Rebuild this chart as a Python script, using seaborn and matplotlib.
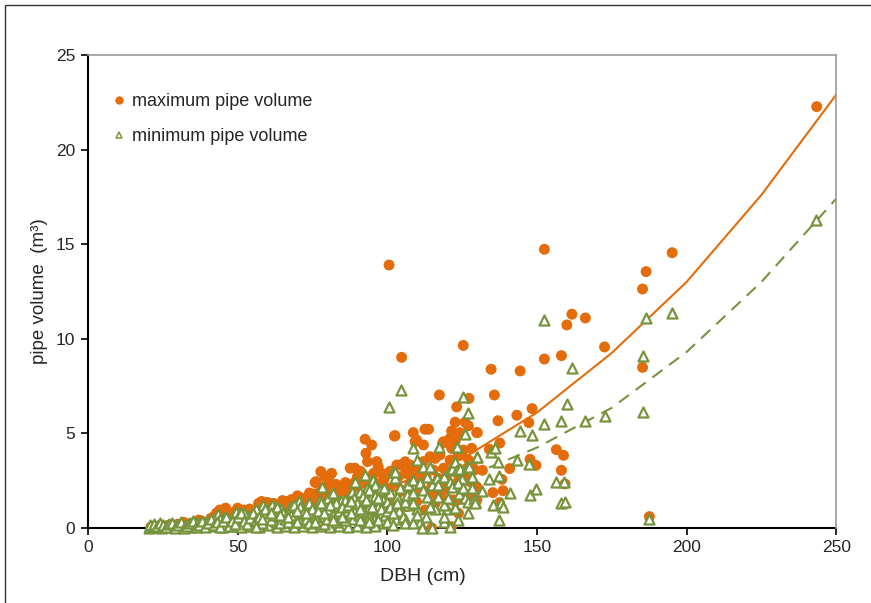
import matplotlib
matplotlib.use("Agg")
import matplotlib.pyplot as plt
import seaborn as sns
import pandas as pd
from matplotlib.lines import Line2D
from matplotlib.patches import Rectangle

# Maximum pipe volume per tree: DBH (cm) and volume (m3)
max_dbh = [
    21, 22, 23, 24, 25, 26, 27, 28, 29, 30, 31, 32, 33, 34, 35, 36, 37, 38, 39, 40,
    41, 42, 43, 44, 45, 46, 47, 48,
    49, 50, 51, 52, 53, 54, 55, 56, 57, 58, 59, 60, 61, 62, 63, 64, 65, 66, 67, 68,
    69, 70, 71, 72, 73, 74, 75,
    50, 55, 58, 60, 63, 66, 68, 70, 72, 74,
    75.9, 76.2, 77.8, 79.2, 80, 81.4, 82, 83.1, 84.2, 85, 85.9, 86, 87.6, 88.7, 89.2,
    89.8, 90.5, 91.5, 92.6, 92.9, 93.4, 94.3, 94.8, 95.4, 95.9, 96.5, 97, 97.6, 98.1,
    98.7, 99.3, 99.8, 100.4, 100.6, 100.9,
    76, 78, 80, 82, 84, 86, 88, 90, 92, 94, 96, 97.6, 98,
    58, 60, 62, 64, 66, 68, 70, 72, 74, 76, 78, 80, 81, 83, 85, 87, 88, 90, 91, 93,
    95, 96, 98, 99, 101, 103, 105, 106, 108, 110, 111, 113, 115, 116, 118, 120, 122,
    124, 126, 128, 45, 47, 49, 52, 54, 56, 38, 41, 43,
    101, 102, 102.4, 102.6, 103.2, 103.7, 104.3, 104.3, 104.8, 106, 106.5, 107.6, 107.6,
    107.6, 108.7, 108.7, 109.3, 109.8, 109.8, 111, 111, 112.1, 112.1, 112.6, 112.6, 113.8,
    114.3, 114.3, 114.9, 115.4, 115.4, 116, 117.1, 117.4, 117.6, 118.5, 118.8, 118.8,
    118.8, 119.9, 121, 121, 121.5, 121.5, 121.5, 121.5, 122.1, 122.7, 122.7, 122.7, 123.2,
    123.2, 123.7, 123.8, 124.3, 124.9, 125.4, 125.4, 126, 126, 126.6, 127.1, 127.2, 127.3,
    127.7, 127.7, 128.2, 128.3, 129.3, 129.3, 129.9, 129.9, 129.9,
    130.1, 131.8, 134.1, 134.7, 135.3, 135.8, 137, 137.5, 137.6, 138.3, 138.7, 140.9,
    143.3, 144.4, 147.3, 147.7, 148.4, 149.7, 152.5, 152.5, 156.5, 158.2, 158.2, 158.9,
    159.4, 160, 161.7, 166.2, 172.6, 185.3, 185.3, 186.5, 187.6, 195.2, 243.5,
]
max_vol = [
    0.05, 0.1, 0.08, 0.12, 0.06, 0.1, 0.15, 0.08, 0.12, 0.2, 0.1, 0.3, 0.15, 0.22, 0.12,
    0.3, 0.42, 0.18, 0.28, 0.15, 0.35, 0.6, 0.4, 0.95, 0.7, 1.05, 0.45, 0.3,
    0.85, 1.05, 0.5, 0.7, 0.35, 0.75, 0.6, 0.9, 1.3, 1.4, 0.8, 1.35, 0.6, 1.3, 1.0, 0.5,
    1.45, 1.2, 0.8, 1.5, 1.0, 1.7, 1.6, 1.2, 1.5, 1.85, 1.3,
    0.4, 0.3, 0.7, 0.9, 0.6, 0.9, 0.4, 1.1, 0.7, 0.9,
    2.4, 2.45, 2.98, 2.71, 2.2, 2.89, 1.6, 1.83, 2.0, 1.3, 1.92, 2.4, 3.16, 2.36, 3.16,
    2.18, 1.5, 2.36, 4.69, 3.95, 3.51, 2.0, 4.39, 2.89, 2.1, 3.51, 3.24, 1.92, 2.89,
    2.27, 0.6, 1.65, 2.89, 13.9, 2.89,
    1.2, 1.6, 0.8, 1.1, 1.4, 0.9, 1.2, 0.7, 1.3, 1.0, 0.5, 0.78, 1.3,
    1.0, 0.5, 1.1, 1.2, 1.4, 1.1, 1.4, 1.5, 1.4, 1.8, 2.0, 1.8, 2.4, 2.3, 2.2, 1.8,
    2.0, 2.7, 3.0, 2.6, 1.6, 2.4, 2.3, 2.6, 3.0, 2.4, 2.0, 3.5, 2.7, 2.5, 3.0, 2.7,
    2.3, 1.3, 1.6, 2.9, 3.1, 2.6, 3.1, 1.8, 0.5, 0.8, 0.55, 0.95, 1.0, 0.6, 0.35,
    0.5, 0.8,
    2.1, 1.22, 4.86, 4.88, 3.33, 2.71, 1.92, 3.33, 9.02, 2.89, 1.13, 2.36, 3.33,
    1.83, 5.04, 3.07, 4.56, 1.39, 4.65, 2.0, 2.18, 4.39, 3.51, 5.22, 0.95, 5.22,
    3.77, 2.0, 0.0, 3.07, 1.83, 3.68, 2.62, 7.03, 3.86, 4.48, 4.56, 3.16,
    2.0, 2.45, 4.74, 3.59, 5.13, 1.48, 0.07, 4.21, 1.48, 5.59, 4.6, 1.39, 6.4,
    2.36, 3.84, 0.78, 5.04, 3.86, 9.65, 4.12, 5.59, 2.68, 1.74, 5.4, 3.59, 6.85,
    3.33, 2.45, 4.21, 3.33, 3.07, 2.13, 5.04, 2.18, 1.48,
    5.04, 3.05, 4.16, 8.39, 1.87, 7.03, 5.67, 1.34, 4.49, 2.57, 1.97, 3.14,
    5.96, 8.3, 5.57, 3.63, 6.31, 3.31, 14.73, 8.93, 4.14, 9.11, 3.05, 3.84,
    2.33, 10.73, 11.3, 11.1, 9.57, 8.49, 12.63, 13.55, 0.6, 14.55, 22.27,
]

# Minimum pipe volume per tree
min_dbh = [
    20.5, 21.5, 22.5, 23.5, 24.5, 25.5, 26.5, 27.5, 28.5, 29.5, 30.5, 31.5, 32.5, 33.5,
    34.5, 35.5, 36.5, 37.5, 38.5, 39.5, 40.5, 41.5, 42.5, 43.5, 44.5, 45.5, 46.5, 47.5,
    48.5, 49.5, 50.5, 51.5, 52.5, 53.5, 54.5, 55.5, 56.5, 57.5, 58.5, 59.5, 60.5, 61.5,
    62.5, 63.5, 64.5, 65.5, 66.5, 67.5, 68.5, 69.5, 70.5, 71.5, 72.5, 73.5, 74.5, 75.5,
    76.5, 77.5, 78.1, 78.5, 79.5, 80.3, 80.5, 81.5, 82, 82.5, 83.5, 84.5, 85.5, 86.5,
    87.5, 88.1, 88.5, 89.2, 89.5, 90.5, 90.9, 91.5, 92.6, 92.5, 93.1, 93.5, 94.5, 95.4,
    95.5, 95.9, 96.5, 97.5, 97.6, 98.5, 98.7, 99.3, 99.8, 100.7, 100.9,
    45, 48, 51, 54, 57, 60, 63, 66, 69, 72, 75, 78, 81, 84, 87, 90, 93, 96,
    44, 52, 56, 59, 62, 65, 68, 71, 74, 77, 80, 83, 86, 89, 92, 94, 97,
    20.8, 22, 23, 24, 25, 26, 27, 28, 29, 30, 31, 32, 33, 34, 35, 36, 37, 38, 39, 40,
    41, 42, 43, 44, 45, 46, 47, 48, 49, 50, 51, 52, 53, 54, 55, 56, 57, 58, 59, 60,
    61, 62, 63, 64, 65, 66, 67, 68, 69, 70, 71, 72, 73, 74, 75, 76, 77, 78, 79, 80,
    81, 82, 83, 84, 85, 86, 87, 88, 89, 90, 91, 92, 93, 94, 95, 96, 97, 98, 99, 100,
    56, 58, 61, 64, 67, 70, 73, 76, 79, 82, 85, 88, 91, 94, 97, 100, 101, 103, 104,
    106, 107, 110, 111, 113, 116, 119, 120, 124, 125, 127,
    102, 102, 102, 102.6, 102.6, 103.2, 103.2, 104.3, 104.6, 105.4, 105.9, 105.9, 106.5,
    107, 108.7, 108.7, 108.7, 108.7, 108.7, 109.8, 109.8, 111, 111.5, 112.1, 112.1, 113.2,
    113.2, 114.3, 114.3, 114.9, 114.9, 116.5, 117.1, 117.1, 117.4, 118.8, 118.8, 118.8,
    120.4, 121, 121, 121, 121.5, 121.5, 122.7, 122.7, 122.7, 123.2, 123.2, 123.2, 123.8,
    123.8, 124.3, 125.4, 125.4, 126, 126, 126, 126.6, 127.1, 127.1, 127.3, 128.2, 128.2,
    128.3, 129, 129.3, 129.3, 129.9,
    130.1, 131.8, 134.1, 134.7, 135.3, 135.9, 136.9, 137.5, 137.5, 138, 138.6, 140.9,
    143.3, 144.4, 147.3, 147.8, 148.4, 149.6, 152.5, 152.5, 156.5, 158.2, 158.2, 158.9,
    159.4, 159.9, 161.7, 166.2, 172.6, 185.3, 185.3, 186.5, 187.6, 195, 243.3,
]
min_vol = [
    0.02, 0.05, 0.03, 0.08, 0.02, 0.06, 0.1, 0.04, 0.08, 0.12, 0.05, 0.15, 0.08, 0.2,
    0.05, 0.12, 0.25, 0.08, 0.18, 0.3, 0.1, 0.22, 0.45, 0.75, 0.3, 0.55, 0.15, 0.4,
    0.6, 0.85, 0.25, 0.5, 0.1, 0.65, 0.35, 0.5, 0.2, 0.8, 1.2, 0.45, 0.95, 1.2,
    0.3, 0.7, 1.0, 0.5, 0.8, 1.1, 0.2, 0.6, 1.45, 0.9, 0.4, 1.2, 0.7, 0.15,
    1.0, 1.5, 2.18, 0.5, 1.3, 1.57, 0.8, 0.3, 1.83, 1.1, 0.6, 1.4, 0.2, 0.9,
    1.6, 1.92, 0.5, 2.45, 1.2, 0.7, 1.92, 1.4, 2.8, 0.3, 2.1, 1.0, 1.6, 2.54,
    0.5, 2.27, 1.2, 0.8, 2.0, 1.5, 0.25, 0.69, 1.39, 6.38, 1.83,
    0.05, 0.1, 0.05, 0.1, 0.05, 0.15, 0.05, 0.1, 0.05, 0.1, 0.05, 0.1, 0.05, 0.1, 0.05,
    0.1, 0.05, 0.1,
    0.5, 0.8, 1.0, 0.7, 0.9, 0.3, 1.0, 0.3, 1.3, 0.4, 1.0, 1.3, 1.5, 0.9, 1.7, 0.6, 1.1,
    0.15, 0.2, 0.12, 0.25, 0.18, 0.05, 0.22, 0.28, 0.02, 0.18, 0.3, 0.02, 0.1, 0.25,
    0.35, 0.05, 0.15, 0.35, 0.05, 0.25, 0.45, 0.15, 0.3, 0.05, 0.35, 0.6, 0.1, 0.35,
    0.2, 0.6, 0.8, 0.35, 0.2, 0.55, 0.8, 0.4, 0.6, 0.25, 1.0, 0.6, 0.4, 0.7, 1.1, 0.25,
    0.8, 0.5, 0.3, 0.7, 1.2, 0.3, 1.1, 0.8, 0.5, 0.25, 1.0, 0.6, 0.9, 1.3, 0.2, 0.5,
    1.2, 0.7, 0.3, 0.9, 1.1, 0.4, 1.2, 0.8, 1.6, 1.3, 0.4, 0.9, 1.5, 2.0, 1.1, 1.7,
    0.4, 1.0, 2.1, 0.9,
    0.05, 0.5, 0.8, 0.7, 0.6, 0.9, 0.8, 0.3, 0.8, 0.4, 0.6, 1.4, 1.0, 0.3, 1.6, 0.3,
    1.1, 0.5, 0.9, 0.5, 1.2, 1.0, 0.3, 0.6, 1.0, 0.3, 1.0, 1.8, 2.6, 0.8,
    2.98, 0.78, 0.16, 2.62, 2.98, 1.65, 1.31, 2.1, 7.3, 0.6, 1.39, 0.25, 1.74,
    2.27, 4.21, 2.54, 1.83, 1.31, 0.25, 3.59, 0.69, 2.36, 0.0, 3.21, 2.0, 2.71,
    1.65, 3.21, 1.13, 2.27, 0.0, 2.62, 2.27, 1.65, 4.27, 2.71, 1.22, 0.6,
    1.57, 3.07, 2.45, 0.07, 3.1, 2.18, 1.13, 3.5, 1.04, 4.27, 3.07, 4.3, 2.36,
    0.42, 3.1, 6.94, 2.1, 4.97, 1.57, 1.6, 3.21, 6.1, 1.36, 3.21, 2.71, 2.1,
    2.68, 1.55, 1.39, 1.3, 3.73,
    3.73, 1.97, 2.57, 4.03, 1.22, 4.21, 3.47, 2.77, 0.42, 1.34, 1.1, 1.87,
    3.58, 5.13, 3.4, 1.74, 4.93, 2.04, 11.0, 5.48, 2.41, 5.66, 1.3, 2.41,
    1.39, 6.57, 8.47, 5.66, 5.94, 9.09, 6.13, 11.08, 0.5, 11.35, 16.28,
]

# Fitted allometric curves for both estimates
fit_dbh = [25, 50, 75, 100, 125, 150, 175, 200, 225, 250]
fit_max = [0.04, 0.33, 1.0, 2.1, 3.65, 6.1, 9.25, 13.0, 17.6, 22.9]
fit_min = [0.03, 0.25, 0.7, 1.45, 2.6, 4.25, 6.35, 9.3, 13.0, 17.4]

x_ticks = [0, 50, 100, 150, 200, 250]
y_ticks = [0, 5, 10, 15, 20, 25]

ORANGE = "#E46C0A"
GREEN = "#77933C"
FONT = ["Liberation Sans", "DejaVu Sans"]

sns.set_theme(style="white")
plt.rcParams["font.family"] = FONT

df_max = pd.DataFrame({"dbh": max_dbh, "vol": max_vol})
df_min = pd.DataFrame({"dbh": min_dbh, "vol": min_vol})
df_fit = pd.DataFrame({"dbh": fit_dbh, "fmax": fit_max, "fmin": fit_min})

fig = plt.figure(figsize=(8.71, 6.03), dpi=100)
ax = fig.add_axes([0.101, 0.1244, 0.859, 0.7844])

sns.lineplot(data=df_fit, x="dbh", y="fmax", ax=ax, color=ORANGE, lw=1.5,
             zorder=1.5, legend=False)
sns.lineplot(data=df_fit, x="dbh", y="fmin", ax=ax, color=GREEN, lw=1.5,
             zorder=1.5, legend=False)
ax.lines[-1].set_dashes([6, 4])
sns.scatterplot(data=df_max, x="dbh", y="vol", ax=ax, color=ORANGE, marker="o",
                s=62, edgecolor="none", linewidth=0, zorder=2, legend=False,
                clip_on=False)
sns.scatterplot(data=df_min, x="dbh", y="vol", ax=ax, marker="^", s=52,
                facecolor="white", edgecolor=GREEN, linewidth=1.6, zorder=3,
                legend=False, clip_on=False)

ax.set_xlim(0, 250)
ax.set_ylim(0, 25)
ax.set_xticks(x_ticks)
ax.set_yticks(y_ticks)
ax.set_xticklabels([str(v) for v in x_ticks], fontsize=12.5)
ax.set_yticklabels([str(v) for v in y_ticks], fontsize=12.5)
ax.tick_params(axis="both", direction="out", length=5, width=1.2, color="black",
               pad=4, bottom=True, left=True)
ax.set_xlabel("DBH (cm)", fontsize=14, labelpad=10)
ax.xaxis.set_label_coords(0.448, -0.085)
ax.set_ylabel("pipe volume  (m³)", fontsize=13.5, labelpad=6)

for side in ("left", "bottom"):
    ax.spines[side].set_color("black")
    ax.spines[side].set_linewidth(1.5)
    ax.spines[side].set_zorder(1)
for side in ("top", "right"):
    ax.spines[side].set_color("#9a9a9a")
    ax.spines[side].set_linewidth(1.2)

handles = [
    Line2D([], [], marker="o", ls="none", color=ORANGE, markersize=6,
           markeredgewidth=0),
    Line2D([], [], marker="^", ls="none", markerfacecolor="white",
           markeredgecolor=GREEN, markersize=5, markeredgewidth=1.1),
]
ax.legend(handles, ["maximum pipe volume", "minimum pipe volume"],
          loc="upper left", bbox_to_anchor=(0.025, 0.935), frameon=False,
          fontsize=13, handlelength=0.6, handletextpad=0.4, labelspacing=1.0,
          borderaxespad=0)

# outer chart frame
fig.add_artist(Rectangle((5 / 871, -0.2), 1.2, 1.2 - 5 / 603,
                         transform=fig.transFigure, fill=False,
                         edgecolor="#333333", linewidth=1.0))

fig.savefig("out.png", dpi=100)
